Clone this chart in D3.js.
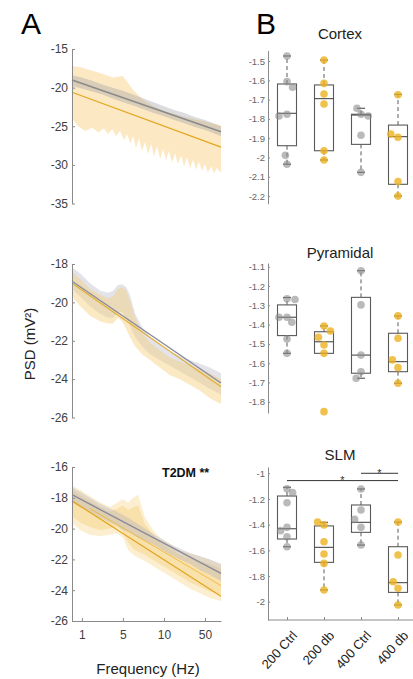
<!DOCTYPE html>
<html><head><meta charset="utf-8">
<script src="https://cdn.jsdelivr.net/npm/d3@7"></script>
<style>
html,body{margin:0;padding:0;background:#fff;}
svg{display:block;font-family:"Liberation Sans",Arial,sans-serif;}
</style></head>
<body>
<svg id="chart" width="413" height="679"></svg>
<script>
// ---------------- DATA ----------------
// Panel A: x in "tick position" units (tick 0..3 labelled 1,5,10,50 Hz)
const xTickPos = [0, 1, 2, 3];
const xTickLabels = ["1", "5", "10", "50"];
const xDomainA = [-0.24, 3.39];

const topTicks = [-15, -20, -25, -30, -35];
const midTicks = [-18, -20, -22, -24, -26];
const botTicks = [-16, -18, -20, -22, -24, -26];

// Cortex PSD
const topX = [-0.24, 0, 0.25, 0.5, 0.75, 1, 1.25, 1.5, 1.75, 2, 2.25, 2.5, 2.75, 3, 3.25, 3.39];
const topOrangeUpper = [-17.2, -17.4, -17.8, -18.2, -18.7, -18.5, -20.3, -21.6, -22.4, -23.0, -23.4, -23.8, -24.1, -24.4, -24.7, -24.9];
const topLowerX = [-0.24, -0.09, 0.08, 0.25, 0.40, 0.54, 0.64, 0.74, 0.83, 0.93, 1.03, 1.10, 1.18, 1.25, 1.32, 1.39, 1.47, 1.54, 1.61, 1.69, 1.76, 1.83, 1.91, 1.98, 2.05, 2.12, 2.20, 2.27, 2.34, 2.42, 2.49, 2.56, 2.64, 2.71, 2.78, 2.85, 2.93, 3.00, 3.07, 3.15, 3.22, 3.29, 3.39];
const topOrangeLower = [-24.0, -25.0, -25.6, -25.2, -25.8, -25.3, -26.0, -25.4, -26.3, -25.6, -26.8, -26.0, -27.2, -26.3, -27.8, -26.6, -28.2, -27.0, -28.6, -27.3, -28.9, -27.6, -29.2, -27.9, -29.4, -28.2, -29.7, -28.5, -29.9, -28.8, -30.2, -29.0, -30.4, -29.3, -30.6, -29.6, -30.8, -29.9, -31.0, -30.2, -31.1, -30.4, -31.0];
const topGrayUpper = [-18.4, -18.7, -19.1, -19.6, -20.0, -20.4, -20.9, -21.4, -21.9, -22.4, -22.9, -23.3, -23.8, -24.2, -24.7, -25.0];
const topGrayLower = [-19.8, -20.1, -20.5, -20.9, -21.4, -21.9, -22.3, -22.8, -23.3, -23.7, -24.2, -24.6, -25.1, -25.5, -26.0, -26.3];
const topGrayFit = [-19.0, -25.7];
const topOrangeFit = [-20.6, -27.7];

// Pyramidal PSD
const midX = [-0.24, -0.04, 0.20, 0.45, 0.64, 0.76, 0.88, 0.98, 1.08, 1.17, 1.30, 1.47, 1.66, 1.90, 2.15, 2.39, 2.64, 2.88, 3.12, 3.39];
const midGrayUpper = [-18.15, -18.5, -19.0, -19.4, -19.5, -19.4, -19.1, -19.05, -19.2, -19.6, -20.6, -21.3, -21.8, -22.2, -22.6, -22.8, -23.0, -23.2, -23.4, -23.7];
const midGrayLower = [-19.3, -19.7, -20.2, -20.6, -20.8, -20.8, -20.5, -20.5, -20.8, -21.2, -21.8, -22.3, -22.7, -23.0, -23.3, -23.6, -23.9, -24.2, -24.5, -24.8];
const midOrangeUpper = [-18.4, -18.8, -19.3, -19.6, -19.8, -19.7, -19.3, -19.2, -19.4, -19.9, -20.8, -21.6, -22.1, -22.5, -22.9, -23.1, -23.3, -23.5, -23.7, -24.0];
const midOrangeLower = [-19.7, -20.2, -20.7, -21.0, -21.1, -21.1, -20.8, -21.0, -21.4, -21.8, -22.3, -22.7, -23.0, -23.4, -23.8, -24.0, -24.3, -24.6, -25.0, -25.3];
const midGrayFit = [-18.9, -24.2];
const midOrangeFit = [-19.0, -24.4];

// SLM PSD
const botX = [-0.24, -0.04, 0.20, 0.45, 0.69, 0.86, 1.00, 1.13, 1.25, 1.37, 1.54, 1.71, 1.90, 2.15, 2.39, 2.64, 2.88, 3.12, 3.39];
const botOrangeUpper = [-17.2, -17.5, -17.9, -18.3, -18.6, -18.3, -18.1, -18.3, -18.0, -17.8, -19.3, -20.0, -20.6, -21.0, -21.4, -21.6, -21.8, -22.0, -22.3];
const botOrangeLower = [-19.6, -20.1, -20.4, -20.5, -20.4, -20.3, -20.6, -21.4, -21.7, -21.9, -22.1, -22.4, -22.7, -23.1, -23.5, -23.9, -24.2, -24.5, -24.7];
const botInnerUpper = [-17.5, -17.8, -18.2, -18.6, -18.9, -18.7, -18.5, -18.8, -18.6, -18.5, -19.7, -20.3, -20.9, -21.3, -21.7, -21.9, -22.1, -22.3, -22.6];
const botInnerLower = [-19.2, -19.6, -19.9, -20.1, -20.0, -19.9, -20.2, -20.9, -21.3, -21.5, -21.7, -22.0, -22.3, -22.7, -23.1, -23.5, -23.8, -24.1, -24.3];
const botGrayUpper = [-17.3, -17.6, -18.0, -18.4, -18.7, -18.9, -19.1, -19.3, -19.5, -19.7, -20.0, -20.3, -20.6, -21.0, -21.3, -21.6, -21.8, -22.0, -22.3];
const botGrayLower = [-18.3, -18.6, -18.9, -19.3, -19.6, -19.8, -20.1, -20.2, -20.4, -20.6, -20.8, -21.0, -21.3, -21.7, -22.0, -22.3, -22.7, -23.0, -23.4];
const botGrayFit = [-17.8, -22.9];
const botOrangeFit = [-18.2, -24.4];
const botOrangeFit2X = [0.20, 3.39];
const botOrangeFit2 = [-18.7, -23.7];

// Panel B: spectral exponent box plots
const groups = ["200 Ctrl", "200 db", "400 Ctrl", "400 db"];
const cortexTicks = [-1.5, -1.6, -1.7, -1.8, -1.9, -2, -2.1, -2.2];
const pyrTicks = [-1.1, -1.2, -1.3, -1.4, -1.5, -1.6, -1.7, -1.8];
const slmTicks = [-1, -1.2, -1.4, -1.6, -1.8, -2];

// [lower whisker, Q1, median, Q3, upper whisker]
const cortexBox = [[-2.035, -1.939, -1.771, -1.619, -1.474], [-2.013, -1.965, -1.695, -1.624, -1.495], [-2.077, -1.932, -1.780, -1.776, -1.745], [-2.200, -2.139, -1.892, -1.832, -1.673]];
const cortexPts = [[-1.474, -1.607, -1.636, -1.785, -1.776, -1.989, -2.035], [-1.495, -1.616, -1.671, -1.723, -1.965, -2.013], [-1.745, -1.776, -1.785, -1.885, -2.077], [-1.675, -1.878, -1.895, -2.125, -2.200]];
const cortexJit = [[0, 0, 0.7, -1, 0, -0.2, 0], [0, 0, 0, 0, 0, 0], [-0.5, 0, 0.9, 0, 0], [0, -0.9, 0, 0, 0]];

const pyrBox = [[-1.549, -1.457, -1.362, -1.298, -1.260], [-1.549, -1.549, -1.489, -1.437, -1.407], [-1.678, -1.652, -1.558, -1.259, -1.121], [-1.704, -1.644, -1.592, -1.445, -1.355]];
const pyrPts = [[-1.266, -1.270, -1.362, -1.362, -1.388, -1.475, -1.549], [-1.407, -1.433, -1.466, -1.506, -1.549, -1.851], [-1.121, -1.298, -1.558, -1.644, -1.678], [-1.355, -1.471, -1.583, -1.623, -1.704]];
const pyrJit = [[0, 1.0, -1, 0, 0.6, 0, 0], [0, 0.8, -0.7, 0, 0, 0], [0, 0, 0, 0, -0.6], [0, 0, -0.7, 0, 0]];

const slmBox = [[-1.572, -1.512, -1.432, -1.177, -1.109], [-1.909, -1.694, -1.577, -1.410, -1.382], [-1.559, -1.460, -1.382, -1.247, -1.122], [-2.026, -1.928, -1.852, -1.572, -1.380]];
const slmPts = [[-1.120, -1.151, -1.229, -1.421, -1.447, -1.494, -1.572], [-1.380, -1.403, -1.533, -1.629, -1.702, -1.909], [-1.122, -1.286, -1.359, -1.421, -1.559], [-1.380, -1.637, -1.845, -1.896, -2.026]];
const slmJit = [[0, 0.7, 0, 0, -0.8, 0, 0], [-0.8, 0, 0, 0, 0, 0], [0, 0, -0.8, 0, 0], [0, 0, -0.6, 0, 0]];

const sigFrom = [0, 2];
const sigTo = [3, 3];
const sigLevel = [-1.057, -1.0];
const sigLabel = ["*", "*"];

// ---------------- DRAW ----------------
const svg = d3.select("#chart");
const GRAY = "#8c8c8c", ORANGE = "#EDB120";

svg.append("text").attr("x", 21).attr("y", 34).attr("font-size", 30).attr("fill", "#000").text("A");
svg.append("text").attr("x", 256).attr("y", 34).attr("font-size", 30).attr("fill", "#000").text("B");

const xA = d3.scaleLinear().domain(xDomainA).range([72, 221]);

function band(g, y, xu, up, xl, lo, fill, op) {
  const pts = xu.map((x, i) => [x, up[i]]).concat(xl.map((x, i) => [x, lo[i]]).reverse());
  const line = d3.line().x(d => xA(d[0])).y(d => y(d[1]));
  g.append("path").attr("d", line(pts) + "Z").attr("fill", fill).attr("fill-opacity", op).attr("stroke", "none");
}
function fit(g, y, xs, vals, color, w, op) {
  const line = d3.line().x(d => xA(d[0])).y(d => y(d[1]));
  g.append("path").attr("d", line(xs.map((x, i) => [x, vals[i]])))
    .attr("fill", "none").attr("stroke", color).attr("stroke-width", w).attr("stroke-opacity", op);
}
function yAxisA(y, ticks) {
  const ax = svg.append("g").attr("transform", "translate(72,0)")
    .call(d3.axisLeft(y).tickValues(ticks).tickFormat(d => String(d)).tickSizeInner(-3).tickSizeOuter(0).tickPadding(4));
  ax.select(".domain").attr("stroke", "#8a8a8a");
  ax.selectAll(".tick line").attr("stroke", "#8a8a8a");
  ax.selectAll("text").attr("font-size", 12).attr("fill", "#404040").attr("font-family", "Liberation Sans, Arial, sans-serif");
}

// Top
const yTop = d3.scaleLinear().domain([-35, -15]).range([203.5, 49]);
const gTop = svg.append("g");
band(gTop, yTop, topX, topOrangeUpper, topLowerX, topOrangeLower, "#F9D48A", 0.5);
band(gTop, yTop, topX, topGrayUpper, topX, topGrayLower, "#9a9aa2", 0.35);
fit(gTop, yTop, xDomainA, topGrayFit, "#8a8a8a", 1.6, 1);
fit(gTop, yTop, xDomainA, topOrangeFit, "#E3A51C", 1.2, 1);
yAxisA(yTop, topTicks);

// Middle
const yMid = d3.scaleLinear().domain([-26, -18]).range([417.5, 264]);
const gMid = svg.append("g");
band(gMid, yMid, midX, midGrayUpper, midX, midGrayLower, "#b8b8c8", 0.4);
band(gMid, yMid, midX, midOrangeUpper, midX, midOrangeLower, "#F3CF7A", 0.45);
fit(gMid, yMid, xDomainA, midGrayFit, "#8a8a9a", 1.4, 1);
fit(gMid, yMid, xDomainA, midOrangeFit, "#E0A826", 1.2, 0.9);
yAxisA(yMid, midTicks);

// Bottom
const yBot = d3.scaleLinear().domain([-26, -16]).range([621, 467]);
const gBot = svg.append("g");
band(gBot, yBot, botX, botOrangeUpper, botX, botOrangeLower, "#F8DA96", 0.45);
band(gBot, yBot, botX, botInnerUpper, botX, botInnerLower, "#F2C255", 0.3);
band(gBot, yBot, botX, botGrayUpper, botX, botGrayLower, "#b0b0c0", 0.35);
fit(gBot, yBot, xDomainA, botGrayFit, "#8a8a9a", 1.4, 1);
fit(gBot, yBot, xDomainA, botOrangeFit, "#E0A41C", 1.2, 1);
fit(gBot, yBot, botOrangeFit2X, botOrangeFit2, "#EDB120", 1.0, 0.7);
yAxisA(yBot, botTicks);
const axX = svg.append("g").attr("transform", "translate(0,621)")
  .call(d3.axisBottom(xA).tickValues(xTickPos).tickFormat((d, i) => xTickLabels[i]).tickSizeInner(-3).tickSizeOuter(0).tickPadding(9));
axX.select(".domain").attr("stroke", "#8a8a8a");
axX.selectAll(".tick line").attr("stroke", "#8a8a8a");
axX.selectAll("text").attr("font-size", 12).attr("fill", "#404040").attr("font-family", "Liberation Sans, Arial, sans-serif");

svg.append("text").attr("x", 162).attr("y", 477).attr("font-size", 12.5).attr("font-weight", "bold").attr("fill", "#111").text("T2DM **");
svg.append("text").attr("transform", "translate(35,344) rotate(-90)").attr("text-anchor", "middle").attr("font-size", 15).attr("fill", "#222").text("PSD (mV²)");
svg.append("text").attr("x", 148).attr("y", 674).attr("text-anchor", "middle").attr("font-size", 15).attr("fill", "#222").text("Frequency (Hz)");

// Panel B
const xB = d3.scalePoint().domain(groups).range([287, 398]);
const BW = 19;
const groupColor = [GRAY, ORANGE, GRAY, ORANGE];
const groupOpacity = [0.6, 0.8, 0.6, 0.8];

function boxPanel(title, titleY, y, ticks, box, pts, jit) {
  svg.append("text").attr("x", 340).attr("y", titleY).attr("text-anchor", "middle").attr("font-size", 15).attr("fill", "#222").text(title);
  const ax = svg.append("g").attr("transform", "translate(268,0)")
    .call(d3.axisLeft(y).tickValues(ticks).tickFormat(d => String(d)).tickSizeInner(-2).tickSizeOuter(0).tickPadding(3));
  ax.select(".domain").attr("stroke", "#8a8a8a");
  ax.selectAll(".tick line").attr("stroke", "#8a8a8a");
  ax.selectAll("text").attr("font-size", 9.5).attr("fill", "#666").attr("font-family", "Liberation Sans, Arial, sans-serif");
  const g = svg.append("g");
  groups.forEach((name, i) => {
    const cx = xB(name), s = box[i];
    g.append("line").attr("x1", cx).attr("x2", cx).attr("y1", y(s[3])).attr("y2", y(s[4])).attr("stroke", "#5a5a5a").attr("stroke-dasharray", "4,3");
    g.append("line").attr("x1", cx).attr("x2", cx).attr("y1", y(s[1])).attr("y2", y(s[0])).attr("stroke", "#5a5a5a").attr("stroke-dasharray", "4,3");
    [s[0], s[4]].forEach(v => g.append("line").attr("x1", cx - 4).attr("x2", cx + 4).attr("y1", y(v)).attr("y2", y(v)).attr("stroke", "#5a5a5a").attr("stroke-width", 1.2));
    g.append("rect").attr("x", cx - BW / 2).attr("width", BW).attr("y", y(s[3])).attr("height", y(s[1]) - y(s[3]))
      .attr("fill", "none").attr("stroke", "#5a5a5a").attr("stroke-width", 1.1);
    g.append("line").attr("x1", cx - BW / 2).attr("x2", cx + BW / 2).attr("y1", y(s[2])).attr("y2", y(s[2])).attr("stroke", "#4a4a4a").attr("stroke-width", 1.1);
    pts[i].forEach((v, k) => {
      g.append("circle").attr("cx", cx + jit[i][k] * 8).attr("cy", y(v)).attr("r", 3.8)
        .attr("fill", groupColor[i]).attr("fill-opacity", groupOpacity[i]);
    });
  });
}

const yCx = d3.scaleLinear().domain([-2.24, -1.445]).range([203.8, 50.4]);
boxPanel("Cortex", 39, yCx, cortexTicks, cortexBox, cortexPts, cortexJit);
const yPy = d3.scaleLinear().domain([-1.858, -1.081]).range([413, 263]);
boxPanel("Pyramidal", 258, yPy, pyrTicks, pyrBox, pyrPts, pyrJit);
const ySl = d3.scaleLinear().domain([-2.143, -0.951]).range([620, 467]);
boxPanel("SLM", 460, ySl, slmTicks, slmBox, slmPts, slmJit);

const axB = svg.append("g").attr("transform", "translate(0,620)")
  .call(d3.axisBottom(xB).tickSizeInner(-3).tickSizeOuter(0).tickFormat(""));
axB.select(".domain").attr("d", "M268,0H413").attr("stroke", "#8a8a8a");
axB.selectAll(".tick line").attr("stroke", "#8a8a8a");
groups.forEach(name => {
  svg.append("text").attr("transform", `translate(${xB(name) + 11},636) rotate(-48)`)
    .attr("text-anchor", "end").attr("font-size", 13).attr("fill", "#222").text(name);
});

sigFrom.forEach((a, i) => {
  const x1 = xB(groups[a]), x2 = xB(groups[sigTo[i]]), yy = ySl(sigLevel[i]);
  svg.append("line").attr("x1", x1).attr("x2", x2).attr("y1", yy).attr("y2", yy).attr("stroke", "#333").attr("stroke-width", 1);
  svg.append("text").attr("x", (x1 + x2) / 2).attr("y", yy + 3.5).attr("text-anchor", "middle").attr("font-size", 11).attr("fill", "#333").text(sigLabel[i]);
});
</script>
</body></html>
